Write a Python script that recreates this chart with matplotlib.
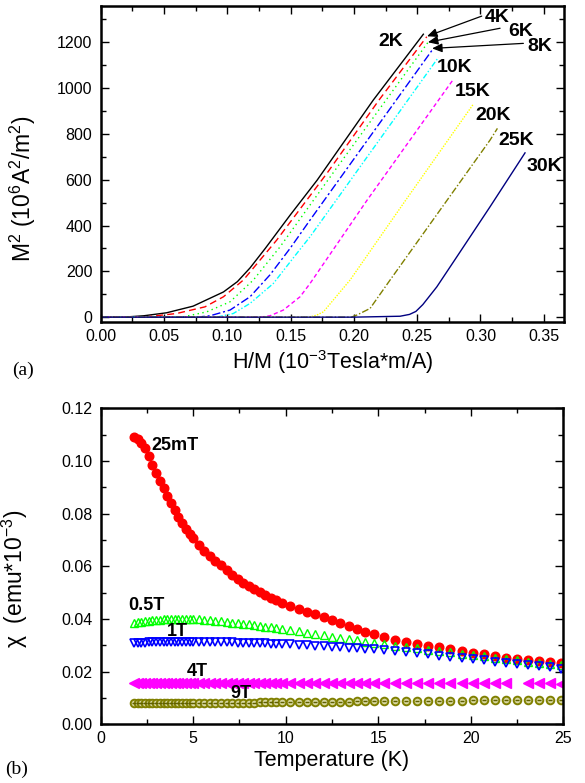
import numpy as np
import matplotlib
matplotlib.use("Agg")
import matplotlib.pyplot as plt
from matplotlib.ticker import MultipleLocator, FormatStrFormatter

plt.rcParams['font.family'] = ['Liberation Sans', 'DejaVu Sans']
plt.rcParams['mathtext.fontset'] = 'custom'
plt.rcParams['mathtext.rm'] = 'Liberation Sans'
plt.rcParams['mathtext.it'] = 'Liberation Sans:italic'
plt.rcParams['mathtext.default'] = 'regular'

# ---------------- panel (a) data: M^2 vs H/M ----------------
curve_labels = ['2K', '4K', '6K', '8K', '10K', '15K', '20K', '25K', '30K']
hm_2K = [0.000, 0.018, 0.034, 0.052, 0.073, 0.097, 0.108, 0.118, 0.130, 0.1496, 0.1710, 0.2154, 0.2549]
m2_2K = [0, 0, 6, 19, 48, 110, 155, 215, 300, 445, 598, 948, 1235]
hm_4K = [0.000, 0.034, 0.060, 0.0824, 0.097, 0.1127, 0.139, 0.1790, 0.2199, 0.2576]
m2_4K = [0, 0, 16, 45, 89, 162, 336, 630, 948, 1224]
hm_6K = [0.000, 0.050, 0.065, 0.0837, 0.1022, 0.1206, 0.1417, 0.1852, 0.2589]
m2_6K = [0, 0, 1, 23, 67, 162, 307, 642, 1202]
hm_8K = [0.000, 0.076, 0.0864, 0.1022, 0.118, 0.1338, 0.1496, 0.1654, 0.2628]
m2_8K = [0, 0, 6, 31, 89, 185, 300, 424, 1173]
hm_10K = [0.000, 0.0917, 0.1048, 0.118, 0.1364, 0.1549, 0.1654, 0.2668]
m2_10K = [0, 0, 16, 60, 147, 278, 351, 1134]
hm_15K = [0.000, 0.126, 0.1338, 0.1443, 0.1575, 0.1654, 0.2105, 0.2786]
m2_15K = [0, 0, 6, 31, 89, 147, 511, 1038]
hm_20K = [0.000, 0.165, 0.1707, 0.1759, 0.197, 0.241, 0.2944]
m2_20K = [0, 0, 9, 23, 162, 511, 930]
hm_25K = [0.000, 0.198, 0.2023, 0.2128, 0.2286, 0.2586, 0.3076, 0.3134]
m2_25K = [0, 0, 9, 38, 162, 394, 773, 824]
hm_30K = [0.000, 0.200, 0.2365, 0.244, 0.249, 0.2545, 0.2655, 0.2813, 0.3076, 0.3352]
m2_30K = [0, 0, 4, 12, 25, 55, 132, 263, 482, 717]

hm_all = [hm_2K, hm_4K, hm_6K, hm_8K, hm_10K, hm_15K, hm_20K, hm_25K, hm_30K]
m2_all = [m2_2K, m2_4K, m2_6K, m2_8K, m2_10K, m2_15K, m2_20K, m2_25K, m2_30K]

# ---------------- panel (b) data: chi vs T ----------------
temperature = [1.8, 2.0, 2.2, 2.4, 2.6, 2.8, 3.0, 3.2, 3.4, 3.6, 3.8, 4.0, 4.2, 4.4, 4.6, 4.8, 5.0,
               5.3, 5.6, 5.9, 6.2, 6.5, 6.8, 7.1, 7.4, 7.7, 8.0, 8.3, 8.6, 8.9, 9.2, 9.5, 9.8,
               10.25, 10.7, 11.15, 11.6, 12.05, 12.5, 12.95, 13.4, 13.85, 14.3, 14.75,
               15.3, 15.9, 16.5, 17.1, 17.7, 18.3, 18.9, 19.5, 20.1, 20.7, 21.3, 21.9, 22.5,
               23.1, 23.7, 24.3, 24.9]
chi_25mT = [0.1092, 0.1082, 0.1068, 0.1048, 0.1018, 0.0985, 0.0955, 0.0925, 0.0898, 0.0868, 0.0840,
            0.0813, 0.0787, 0.0764, 0.0743, 0.0724, 0.0706,
            0.0680, 0.0658, 0.0638, 0.0620, 0.0603, 0.0585, 0.0568, 0.0552, 0.0538, 0.0525, 0.0513,
            0.0501, 0.0490, 0.0480, 0.0471, 0.0462,
            0.0450, 0.0437, 0.0427, 0.0417, 0.0406, 0.0395, 0.0385, 0.0372, 0.0361, 0.0351, 0.0341,
            0.0331, 0.0320, 0.0312, 0.0306, 0.0299, 0.0292, 0.0285, 0.0278, 0.0271, 0.0265, 0.0259,
            0.0253, 0.0248, 0.0244, 0.0240, 0.0236, 0.0232]
chi_05T = [0.0385, 0.0388, 0.0390, 0.0392, 0.0394, 0.0395, 0.0396, 0.0397, 0.0398, 0.0398, 0.0399,
           0.0399, 0.0399, 0.0399, 0.0399, 0.0399, 0.0398,
           0.0398, 0.0397, 0.0395, 0.0393, 0.0391, 0.0389, 0.0386, 0.0384, 0.0381, 0.0379, 0.0376,
           0.0373, 0.0371, 0.0368, 0.0366, 0.0363,
           0.0358, 0.0353, 0.0348, 0.0343, 0.0338, 0.0333, 0.0328, 0.0323, 0.0319, 0.0314, 0.0310,
           0.0305, 0.0299, 0.0294, 0.0288, 0.0283, 0.0278, 0.0273, 0.0268, 0.0263, 0.0258, 0.0253,
           0.0248, 0.0243, 0.0238, 0.0234, 0.0230, 0.0226]
chi_1T = [0.0308, 0.0309, 0.0310, 0.0310, 0.0311, 0.0311, 0.0312, 0.0312, 0.0312, 0.0313, 0.0313,
          0.0313, 0.0313, 0.0313, 0.0313, 0.0313, 0.0313,
          0.0313, 0.0313, 0.0312, 0.0312, 0.0312, 0.0311, 0.0311, 0.0310, 0.0310, 0.0309, 0.0308,
          0.0308, 0.0307, 0.0306, 0.0305, 0.0304,
          0.0303, 0.0302, 0.0300, 0.0299, 0.0297, 0.0295, 0.0293, 0.0291, 0.0288, 0.0286, 0.0284,
          0.0281, 0.0277, 0.0273, 0.0269, 0.0265, 0.0261, 0.0256, 0.0252, 0.0247, 0.0243, 0.0238,
          0.0234, 0.0229, 0.0225, 0.0220, 0.0216, 0.0211]
chi_4T = [0.0158, 0.0158, 0.0158, 0.0158, 0.0158, 0.0158, 0.0158, 0.0158, 0.0158, 0.0158, 0.0158,
          0.0158, 0.0158, 0.0158, 0.0158, 0.0158, 0.0158,
          0.0158, 0.0158, 0.0158, 0.0158, 0.0158, 0.0158, 0.0158, 0.0158, 0.0158, 0.0158, 0.0158,
          0.0158, 0.0158, 0.0158, 0.0158, 0.0158,
          0.0158, 0.0158, 0.0158, 0.0158, 0.0158, 0.0157, 0.0157, 0.0157, 0.0157, 0.0157, 0.0157,
          0.0157, 0.0157, 0.0157, 0.0157, 0.0156, 0.0156, 0.0156, 0.0156, 0.0156, 0.0156, 0.0156,
          0.0155, float('nan'), 0.0155, 0.0155, 0.0155, 0.0154]
chi_9T = [0.0080, 0.0080, 0.0080, 0.0080, 0.0080, 0.0080, 0.0080, 0.0080, 0.0080, 0.0080, 0.0080,
          0.0080, 0.0080, 0.0080, 0.0080, 0.0080, 0.0080,
          0.0081, 0.0081, 0.0081, 0.0081, 0.0081, 0.0081, 0.0081, 0.0082, 0.0082, 0.0082, 0.0082,
          0.0083, 0.0083, 0.0083, 0.0083, 0.0084,
          0.0084, 0.0084, 0.0085, 0.0085, 0.0085, 0.0086, 0.0086, 0.0086, 0.0087, 0.0087, 0.0087,
          0.0088, 0.0088, 0.0088, 0.0089, 0.0089, 0.0090, 0.0090, 0.0090, 0.0091, 0.0091, 0.0092,
          0.0092, 0.0092, 0.0093, 0.0093, 0.0094, 0.0094]
field_labels = ['25mT', '0.5T', '1T', '4T', '9T']

# ---------------- figure ----------------
fig = plt.figure(figsize=(5.85, 7.83), dpi=100)
ax1 = fig.add_axes([0.1721, 0.5891, 0.7920, 0.4032])
ax2 = fig.add_axes([0.1721, 0.0750, 0.7908, 0.4036])

colors = ['black', '#ff0000', '#00ff00', '#0000ff', '#00ffff', '#ff00ff', '#ffff00', '#808000', '#000080']
dashes = [None, (5, 3), (1, 2.5), (6, 2, 1.5, 2), (4, 1.5, 1, 1.5, 1, 1.5), (3, 2), (1, 1), (5, 1.5, 1, 1.5), None]
for x, y, c, d in zip(hm_all, m2_all, colors, dashes):
    line, = ax1.plot(x, y, color=c, lw=1.0)
    if d is not None:
        line.set_dashes(d)

ax1.set_xlim(0, 0.366)
ax1.set_ylim(-20, 1358)
ax1.xaxis.set_major_locator(MultipleLocator(0.05))
ax1.xaxis.set_minor_locator(MultipleLocator(0.025))
ax1.xaxis.set_major_formatter(FormatStrFormatter('%.2f'))
ax1.yaxis.set_major_locator(MultipleLocator(200))
ax1.yaxis.set_minor_locator(MultipleLocator(100))
ax1.set_xlabel('H/M (10$^{-3}$Tesla*m/A)', fontsize=15.5, labelpad=3)
ax1.set_ylabel('M$^2$ (10$^6$A$^2$/m$^2$)', fontsize=16.5)
ax1.yaxis.set_label_coords(-0.135, 0.42)

lab_font = dict(fontsize=14, fontweight='bold', ha='center', va='center')
label_pos = {'2K': (0.2294, 1205), '4K': (0.3131, 1310), '6K': (0.332, 1249), '8K': (0.3467, 1183),
             '10K': (0.2799, 1090), '15K': (0.2942, 983), '20K': (0.310, 878),
             '25K': (0.3285, 769), '30K': (0.3502, 659)}
for name in curve_labels:
    ax1.text(*label_pos[name], name, clip_on=False, **lab_font)
arrows = [((0.301, 1314), (0.2578, 1226)),
          ((0.3155, 1261), (0.2585, 1200)),
          ((0.3339, 1195), (0.2618, 1173))]
for start, end in arrows:
    ax1.annotate('', xy=end, xytext=start,
                 arrowprops=dict(arrowstyle='-|>,head_length=0.5,head_width=0.22', color='black', lw=0.9,
                                 shrinkA=0, shrinkB=0, mutation_scale=12))

# bottom panel
ax2.plot(temperature, chi_25mT, 'o', color='#ff0000', ms=6.2, mec='#ff0000')
ax2.plot(temperature, chi_05T, '^', color='#00ff00', ms=6, mfc='none', mec='#00ff00', mew=1.0)
ax2.plot(temperature, chi_1T, 'v', color='#0000ff', ms=6, mfc='none', mec='#0000ff', mew=1.2)
ax2.plot(temperature, chi_4T, '<', color='#ff00ff', ms=6.5, mec='#ff00ff')
ax2.plot(temperature, chi_9T, 'o', color='#808000', ms=5.5, mfc='#d8d8a0', mec='#808000', mew=1.4)
ax2.plot(temperature, chi_9T, '_', color='#606000', ms=3.5, mew=1.0)

ax2.set_xlim(0, 25)
ax2.set_ylim(0, 0.12)
ax2.xaxis.set_major_locator(MultipleLocator(5))
ax2.xaxis.set_minor_locator(MultipleLocator(2.5))
ax2.yaxis.set_major_locator(MultipleLocator(0.02))
ax2.yaxis.set_minor_locator(MultipleLocator(0.01))
ax2.yaxis.set_major_formatter(FormatStrFormatter('%.2f'))
ax2.set_xlabel('Temperature (K)', fontsize=15.5, labelpad=3)
ax2.set_ylabel('$\\chi$  (emu*10$^{-3}$)', fontsize=16.5)
ax2.yaxis.set_label_coords(-0.153, 0.46)

blab = dict(fontsize=13, fontweight='bold', ha='left', va='center')
blab_pos = {'25mT': (2.72, 0.106), '0.5T': (1.49, 0.0451), '1T': (3.58, 0.0351),
            '4T': (4.65, 0.0200), '9T': (6.99, 0.0116)}
for name in field_labels:
    ax2.text(*blab_pos[name], name, **blab)

for ax in (ax1, ax2):
    for sp in ax.spines.values():
        sp.set_linewidth(1.8)
    ax.tick_params(which='both', direction='in', top=True, right=True, width=1.0,
                   labelsize=11.5)
    ax.tick_params(which='major', length=6)
    ax.tick_params(which='minor', length=3.5)
    ax.tick_params(axis='x', pad=5)
    ax.tick_params(axis='y', pad=6)

fig.text(0.02, 0.5275, '(a)', fontsize=14, family='Liberation Serif', ha='left', va='center')
fig.text(0.0085, 0.018, '(b)', fontsize=14, family='Liberation Serif', ha='left', va='center')

fig.savefig('out.png', dpi=100)
